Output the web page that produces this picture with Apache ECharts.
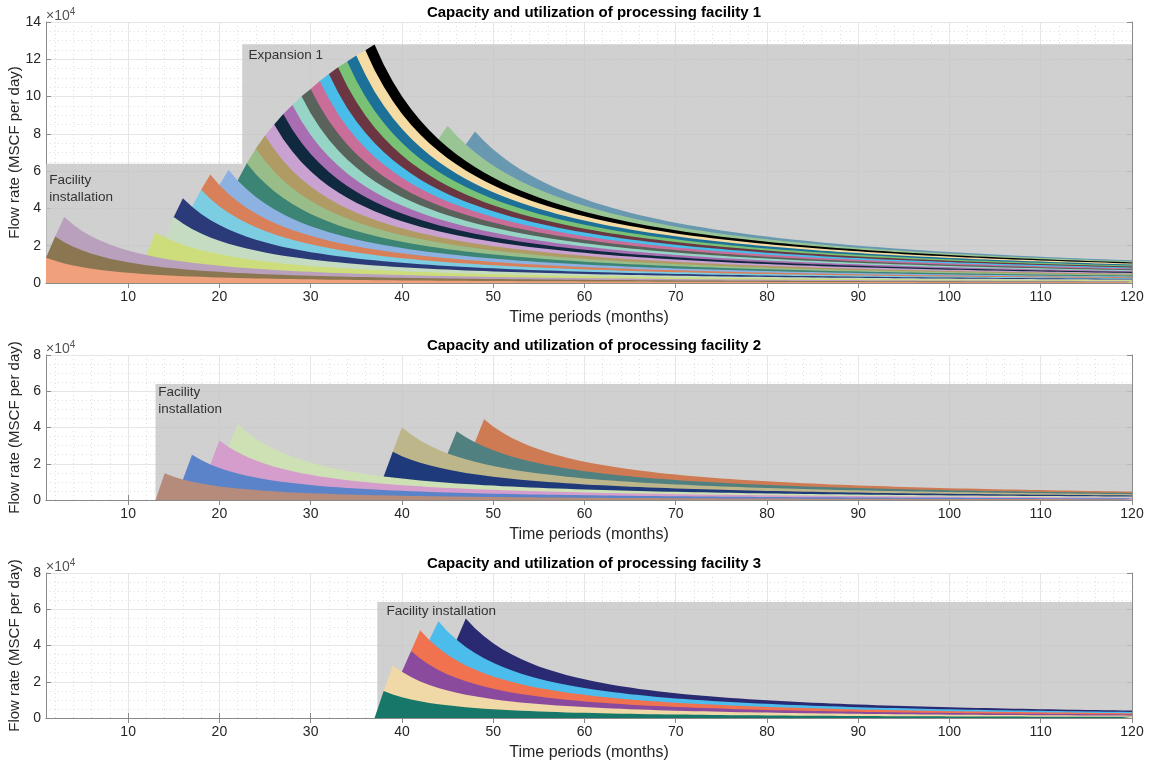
<!DOCTYPE html>
<html><head><meta charset="utf-8">
<script src="https://cdn.jsdelivr.net/npm/echarts@6/dist/echarts.min.js"></script>
<style>html,body{margin:0;padding:0;background:#fff}#c{width:1156px;height:769px}</style>
</head><body><div id="c"></div><script>
// ---------- data ----------
const months = [];
for (let m = 1; m <= 120; m++) months.push(m);
const xTicks = [10, 20, 30, 40, 50, 60, 70, 80, 90, 100, 110, 120];
const xMinorTicks = [];
for (let m = 2; m < 120; m += 2) if (m % 10 !== 0) xMinorTicks.push(m);

// fraction of initial rate remaining, months after first production
const declineProfile = [
  1.000, 0.873, 0.771, 0.687, 0.618, 0.560, 0.511, 0.469, 0.432, 0.400,
  0.372, 0.346, 0.324, 0.304, 0.286, 0.270, 0.255, 0.242, 0.230, 0.218,
  0.208, 0.199, 0.190, 0.182, 0.174, 0.167, 0.160, 0.154, 0.149, 0.143,
  0.138, 0.133, 0.129, 0.125, 0.120, 0.117, 0.113, 0.110, 0.106, 0.103,
  0.100, 0.0975, 0.0949, 0.0923, 0.0899, 0.0876, 0.0853, 0.0832, 0.0812, 0.0792,
  0.0773, 0.0756, 0.0739, 0.0722, 0.0706, 0.0690, 0.0675, 0.0661, 0.0647, 0.0633,
  0.0620, 0.0608, 0.0596, 0.0584, 0.0573, 0.0562, 0.0552, 0.0542, 0.0532, 0.0522,
  0.0513, 0.0504, 0.0495, 0.0486, 0.0478, 0.0470, 0.0462, 0.0455, 0.0447, 0.0440,
  0.0433, 0.0427, 0.0420, 0.0414, 0.0407, 0.0401, 0.0395, 0.0390, 0.0384, 0.0378,
  0.0373, 0.0368, 0.0363, 0.0358, 0.0353, 0.0348, 0.0343, 0.0338, 0.0334, 0.0329,
  0.0325, 0.0321, 0.0317, 0.0313, 0.0309, 0.0305, 0.0301, 0.0298, 0.0294, 0.0291,
  0.0287, 0.0284, 0.0281, 0.0277, 0.0274, 0.0271, 0.0268, 0.0265, 0.0262, 0.0259
];

// facility 1 wells: month of peak production and initial rate (MSCF/day)
const fac1Start = [1, 2, 3, 13, 15, 16, 18, 19, 21, 23, 24, 25, 26, 27, 28, 29, 30, 31, 32, 33, 34, 35, 36, 37, 45, 48];
const fac1Peak  = [13600, 13100, 13500, 13100, 13000, 13600, 13000, 13100, 13000, 14000, 13800, 13600, 13300, 13500,
                   13200, 13400, 13000, 13600, 13300, 13500, 13100, 13400, 13200, 13600, 11500, 11200];
const fac1Colors = ['#f1a07c', '#8a7751', '#b9a1bd', '#cddd7b', '#c5dcc2', '#2b3a78', '#7dcde2', '#d8805a', '#8db1e1',
                    '#3c8474', '#99bd89', '#b09b65', '#c9a2d1', '#11293f', '#a96db1', '#96d5c5', '#59635b', '#c96d99',
                    '#49bde9', '#6b3641', '#79c175', '#1d7199', '#f5dca5', '#000000', '#99c595', '#6999b1'];
const fac1CapMonths = [1, 22.5, 22.5, 120];
const fac1CapValues = [64000, 64000, 128000, 128000];

// facility 2 wells
const fac2Start = [14, 17, 20, 22, 39, 40, 46, 49];
const fac2Peak  = [14700, 14800, 15100, 15700, 14200, 15900, 14000, 15100];
const fac2Colors = ['#b58b7b', '#5b83c9', '#d59dcc', '#cee1b5', '#1f3a7a', '#beb68b', '#50807f', '#ce7b53'];
const fac2CapMonths = [13, 120];
const fac2CapValues = [64000, 64000];

// facility 3 wells
const fac3Start = [38, 39, 41, 42, 44, 47];
const fac3Peak  = [14900, 16000, 14400, 15700, 14800, 15700];
const fac3Colors = ['#17786a', '#f1d9a7', '#8a4a9d', '#f1724f', '#4bbcec', '#2a2a72'];
const fac3CapMonths = [37.3, 120];
const fac3CapValues = [64000, 64000];

const yMax = [140000, 80000, 80000];

// ---------- layout ----------
const L = 46, W = 1086;
const grids = [
  { left: L, top: 22, width: W, height: 261 },
  { left: L, top: 355, width: W, height: 145 },
  { left: L, top: 573, width: W, height: 145 }
];
const FONT = 'Liberation Sans, Arial, Helvetica, sans-serif';
const axisCol = '#8a8a8a';
const txtCol = '#262626';

const xAxes = [], yAxes = [], series = [], titles = [], graphics = [];
const titleTxt = ['Capacity and utilization of processing facility 1',
                  'Capacity and utilization of processing facility 2',
                  'Capacity and utilization of processing facility 3'];

grids.forEach((g, gi) => {
  xAxes.push({
    gridIndex: gi, type: 'value', min: 1, max: 120, position: 'bottom',
    name: 'Time periods (months)', nameLocation: 'middle', nameGap: 27, nameMoveOverlap: false,
    nameTextStyle: { fontFamily: FONT, fontSize: 16, color: txtCol },
    axisLine: { show: true, lineStyle: { color: axisCol, width: 1 } },
    axisTick: { show: true, inside: true, length: 5, customValues: xTicks, lineStyle: { color: axisCol } },
    axisLabel: { show: true, customValues: xTicks, margin: 7, fontFamily: FONT, fontSize: 14, color: txtCol },
    splitLine: { show: true, lineStyle: { color: '#e6e6e6', width: 1 } }
  });
  xAxes.push({
    gridIndex: gi, type: 'value', min: 1, max: 120, position: 'top',
    axisLine: { show: true, lineStyle: { color: axisCol, width: 1 } },
    axisTick: { show: true, inside: true, length: 5, customValues: xTicks, lineStyle: { color: axisCol } },
    axisLabel: { show: false, customValues: xTicks },
    splitLine: { show: false }
  });
  xAxes.push({
    gridIndex: gi, type: 'value', min: 1, max: 120, position: 'bottom',
    axisLine: { show: false }, axisTick: { show: false, customValues: xMinorTicks },
    axisLabel: { show: false, customValues: xMinorTicks },
    splitLine: { show: true, lineStyle: { color: '#e0e0e0', width: 1, type: [1, 3] } }
  });
  yAxes.push({
    gridIndex: gi, type: 'value', min: 0, max: yMax[gi], interval: 20000, position: 'left',
    name: 'Flow rate (MSCF per day)', nameLocation: 'middle', nameGap: 24, nameMoveOverlap: false,
    nameTextStyle: { fontFamily: FONT, fontSize: 15, color: txtCol },
    axisLine: { show: true, lineStyle: { color: axisCol, width: 1 } },
    axisTick: { show: true, inside: true, length: 5, lineStyle: { color: axisCol } },
    axisLabel: { margin: 5, fontFamily: FONT, fontSize: 14, color: txtCol, formatter: v => String(v / 10000) },
    splitLine: { show: true, lineStyle: { color: '#e6e6e6', width: 1 } },
    minorTick: { show: false, splitNumber: 4 },
    minorSplitLine: { show: true, lineStyle: { color: '#e0e0e0', width: 1, type: [1, 3] } }
  });
  yAxes.push({
    gridIndex: gi, type: 'value', min: 0, max: yMax[gi], interval: 20000, position: 'right',
    axisLine: { show: true, lineStyle: { color: axisCol, width: 1 } },
    axisTick: { show: true, inside: true, length: 5, lineStyle: { color: axisCol } },
    axisLabel: { show: false }, splitLine: { show: false }
  });
  titles.push({
    text: titleTxt[gi], left: g.left + g.width / 2, top: g.top - 22, textAlign: 'center',
    textStyle: { fontFamily: FONT, fontSize: 15, fontWeight: 'bold', color: '#000' }
  });
  graphics.push({
    type: 'text', left: g.left, top: g.top - 15,
    style: {
      text: '{a|×10}{b|4}', fontFamily: FONT,
      rich: { a: { fontSize: 14, fill: '#555', fontFamily: FONT }, b: { fontSize: 10, fill: '#555', fontFamily: FONT, verticalAlign: 'top', padding: [0, 0, 8, 0] } }
    }
  });
});

function capSeries(gi, xs, ys, notes) {
  return {
    type: 'line', xAxisIndex: gi * 3, yAxisIndex: gi * 2, silent: true, z: 1,
    data: xs.map((x, i) => [x, ys[i]]), symbol: 'none',
    lineStyle: { width: 0 }, areaStyle: { color: '#c4c4c4', opacity: 0.8, origin: 'start' },
    markPoint: {
      symbol: 'circle', symbolSize: 0, silent: true, animation: false,
      label: { show: true, position: 'right', distance: 0, fontFamily: FONT, fontSize: 13.5, color: '#333', lineHeight: 17 },
      data: notes.map(n => ({ coord: n.c, label: { formatter: n.t } }))
    }
  };
}
// Stack the wells: each band is drawn as the cumulative total up to that well,
// painted from the top band downwards so every lower total covers the one above it.
function wellSeries(gi, starts, peaks, colors) {
  const rates = starts.map((s, i) => months.map(m => {
    const t = m - s;
    return t < 0 ? 0 : peaks[i] * declineProfile[t];
  }));
  const cum = [];
  rates.forEach((r, i) => cum.push(r.map((v, k) => v + (i ? cum[i - 1][k] : 0))));
  const out = [];
  for (let i = starts.length - 1; i >= 0; i--) {
    out.push({
      type: 'line', xAxisIndex: gi * 3, yAxisIndex: gi * 2, silent: true, z: 3,
      symbol: 'none', showSymbol: false, connectNulls: false,
      data: months.map((m, k) => [m, m < starts[i] - 1 ? null : Math.round(cum[i][k])]),
      lineStyle: { width: 0 }, itemStyle: { color: colors[i] },
      areaStyle: { color: colors[i], opacity: 1, origin: 'start' }
    });
  }
  return out;
}

series.push(capSeries(0, fac1CapMonths, fac1CapValues, [
  { c: [23.2, 121900], t: 'Expansion 1' },
  { c: [1.35, 50600], t: 'Facility\ninstallation' }
]));
series.push(...wellSeries(0, fac1Start, fac1Peak, fac1Colors));
series.push(capSeries(1, fac2CapMonths, fac2CapValues, [
  { c: [13.3, 54500], t: 'Facility\ninstallation' }
]));
series.push(...wellSeries(1, fac2Start, fac2Peak, fac2Colors));
series.push(capSeries(2, fac3CapMonths, fac3CapValues, [
  { c: [38.3, 59100], t: 'Facility installation' }
]));
series.push(...wellSeries(2, fac3Start, fac3Peak, fac3Colors));

const chart = echarts.init(document.getElementById('c'), null, { renderer: 'canvas' });
chart.setOption({
  animation: false,
  backgroundColor: '#fff',
  title: titles,
  grid: grids.map(g => Object.assign({ containLabel: false, outerBoundsMode: 'none' }, g)),
  xAxis: xAxes,
  yAxis: yAxes,
  series: series,
  graphic: graphics
});
</script></body></html>
